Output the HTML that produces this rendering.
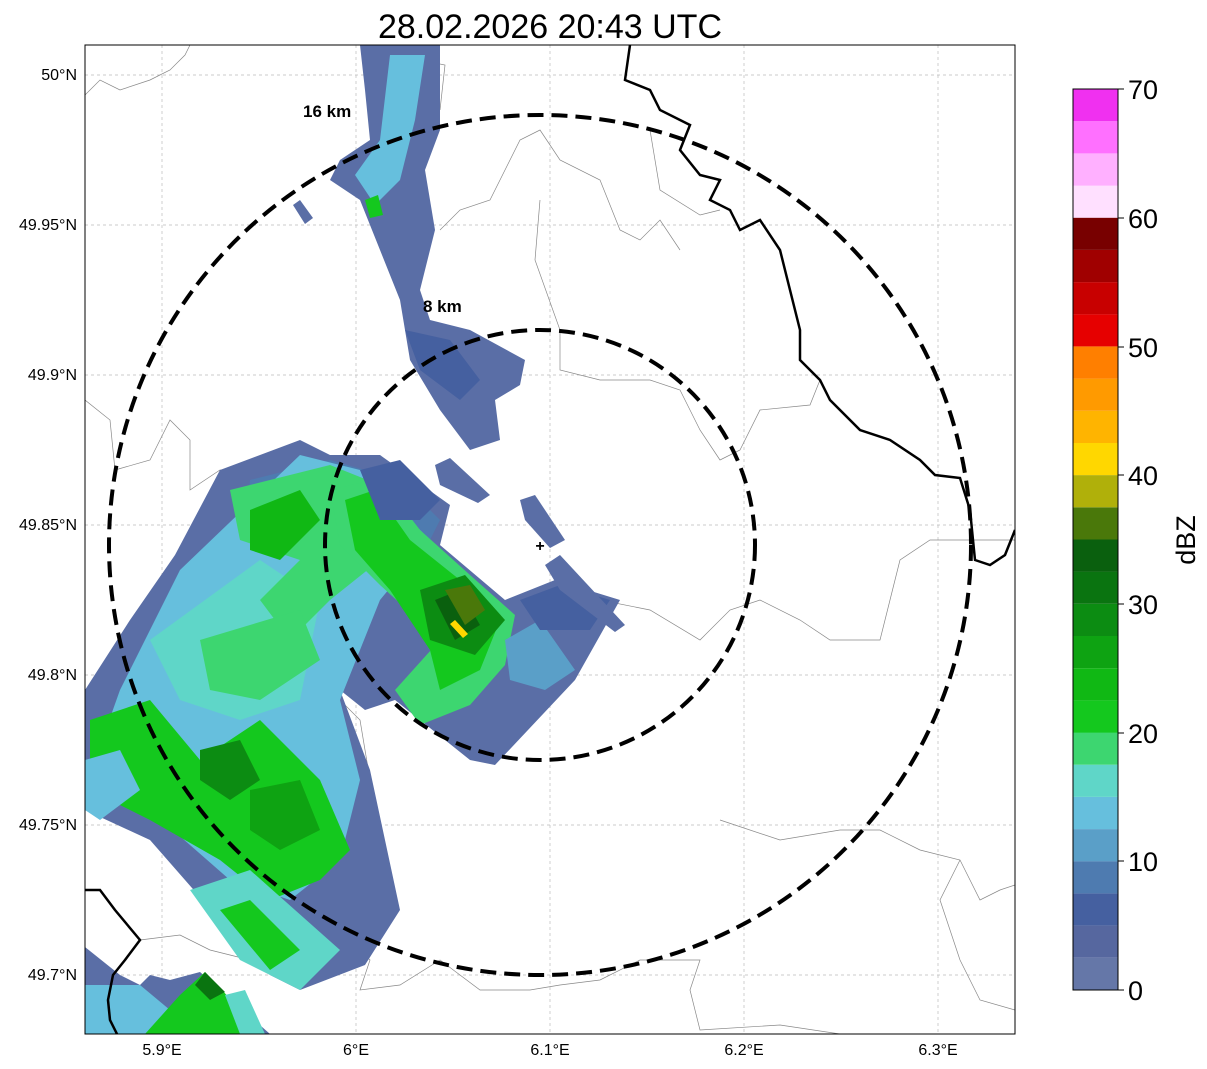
<!DOCTYPE html>
<html><head><meta charset="utf-8"><style>body{margin:0;background:#fff}svg{display:block}text{font-family:"Liberation Sans",sans-serif}</style></head>
<body>
<svg width="1207" height="1069" viewBox="0 0 1207 1069" xmlns="http://www.w3.org/2000/svg">
<defs><clipPath id="c"><rect x="85" y="45" width="930" height="989"/></clipPath></defs>
<text x="550" y="38" font-size="34" text-anchor="middle">28.02.2026 20:43 UTC</text>
<g clip-path="url(#c)">
<g stroke="#bbb" stroke-width="0.7" stroke-dasharray="3,3">
<line x1="162" y1="45" x2="162" y2="1034"/><line x1="356" y1="45" x2="356" y2="1034"/><line x1="550" y1="45" x2="550" y2="1034"/><line x1="744" y1="45" x2="744" y2="1034"/><line x1="938" y1="45" x2="938" y2="1034"/>
<line x1="85" y1="75" x2="1015" y2="75"/><line x1="85" y1="225" x2="1015" y2="225"/><line x1="85" y1="375" x2="1015" y2="375"/><line x1="85" y1="525" x2="1015" y2="525"/><line x1="85" y1="675" x2="1015" y2="675"/><line x1="85" y1="825" x2="1015" y2="825"/><line x1="85" y1="975" x2="1015" y2="975"/>
</g>
<g fill="none" stroke="#888" stroke-width="0.7">
<path d="M85,95 L100,80 120,90 150,80 170,70 185,55 190,45"/>
<path d="M85,400 L110,420 115,470 150,460 170,420 190,440 190,490 220,470 270,480 300,500 300,520 340,530"/>
<path d="M400,45 L420,60 445,65 440,110"/>
<path d="M440,230 L460,210 490,200 520,140 540,130 560,160 600,180 620,230 640,240 660,220 680,250"/>
<path d="M540,200 L535,260 560,330 560,370 600,380 650,380 680,390 700,430 720,460 740,450 760,410 810,405 820,380"/>
<path d="M650,130 L660,190 700,215 720,210"/>
<path d="M460,590 L500,600 560,610 600,600 650,610 700,640 730,610 760,600 800,620 830,640 880,640 900,560 930,540 1015,540"/>
<path d="M340,700 L360,720 370,780 360,840 370,900 350,940 370,960 360,990 400,985 440,960 480,990 530,990 560,985 600,980 640,960 700,960 690,990 700,1030 780,1025 840,1034"/>
<path d="M140,940 L180,935 210,950 250,960 290,960"/>
<path d="M720,820 L780,840 840,830 880,830 920,850 960,860 980,900 1000,890 1015,885"/>
<path d="M960,860 L940,900 960,960 980,1000 1015,1010"/>
</g>
<polygon fill="#5a6ea6" points="220,470 300,440 330,455 380,455 450,505 440,545 505,600 555,580 620,600 575,680 495,765 470,760 395,700 365,710 340,690 370,770 400,910 365,965 300,990 270,975 220,920 150,840 85,810 85,690 130,620 175,555"/>
<polygon fill="#4e7bb0" points="250,480 330,460 400,480 440,520 420,560 350,600 300,620 240,580"/>
<polygon fill="#66bfdd" points="180,570 300,455 360,470 430,540 380,600 340,700 360,780 340,860 290,900 230,880 150,810 95,760 120,690"/>
<polygon fill="#5fd6c8" points="150,640 260,560 320,600 300,700 240,720 180,700"/>
<polygon fill="#3dd670" points="230,490 330,465 380,485 400,520 380,560 330,600 290,640 260,600 300,560 240,540"/>
<polygon fill="#3dd670" points="200,640 300,610 320,660 260,700 210,690"/>
<polygon fill="#14c81e" points="90,720 150,700 200,760 260,720 320,780 350,850 320,880 270,900 220,860 150,820 90,790"/>
<polygon fill="#10b814" points="250,510 300,490 320,520 280,560 250,550"/>
<polygon fill="#0c8c12" points="200,750 240,740 260,780 230,800 200,780"/>
<polygon fill="#0ea312" points="250,790 300,780 320,830 280,850 250,830"/>
<polygon fill="#66bfdd" points="85,760 120,750 140,790 100,820 85,810"/>
<polygon fill="#3dd670" points="330,490 380,478 420,530 470,575 515,615 505,665 470,705 420,725 395,690 440,640 380,585 340,545"/>
<polygon fill="#14c81e" points="345,500 375,490 410,540 460,580 500,620 480,670 440,690 430,650 390,590 355,550"/>
<polygon fill="#0c8c12" points="420,590 465,575 505,620 475,655 430,640"/>
<polygon fill="#0a600e" points="435,600 460,590 480,625 455,640"/>
<polygon fill="#4a780a" points="445,590 470,585 485,610 465,625"/>
<polygon fill="#ffd700" points="450,624 455,620 468,634 463,638"/>
<polygon fill="#4560a0" points="360,470 400,460 440,500 420,520 380,520"/>
<polygon fill="#5a9fc8" points="505,640 540,620 575,670 545,690 510,680"/>
<polygon fill="#4560a0" points="520,600 560,585 610,600 590,630 540,630"/>
<polygon fill="#5fd6c8" points="190,890 250,870 340,950 300,990 240,960"/>
<polygon fill="#14c81e" points="220,910 250,900 300,950 270,970"/>
<polygon fill="#5a6ea6" points="85,947 120,975 140,985 150,975 170,980 200,972 270,1034 85,1034"/>
<polygon fill="#66bfdd" points="85,985 140,985 170,1010 150,1034 85,1034"/>
<polygon fill="#14c81e" points="145,1034 180,995 205,972 250,1020 240,1034"/>
<polygon fill="#0a7410" points="195,985 205,972 225,992 210,1000"/>
<polygon fill="#5fd6c8" points="225,995 245,990 265,1034 240,1034"/>
<polygon fill="#5a6ea6" points="360,45 440,45 440,130 425,170 435,230 420,290 430,320 470,330 525,360 520,385 495,400 500,440 470,450 440,410 410,360 400,300 380,250 360,200 330,180 340,160 370,140 365,90"/>
<polygon fill="#66bfdd" points="390,55 425,55 415,120 400,180 375,205 355,175 380,140"/>
<polygon fill="#4560a0" points="405,330 450,340 480,380 460,400 420,370"/>
<polygon fill="#14c81e" points="365,200 378,195 383,215 370,218"/>
<polygon fill="#5a6ea6" points="293,205 300,200 313,218 305,224"/>
<polygon fill="#5a6ea6" points="435,465 450,458 490,495 478,503 440,485"/>
<polygon fill="#5a6ea6" points="520,500 535,495 565,540 550,548 525,520"/>
<polygon fill="#5a6ea6" points="545,565 560,555 625,625 615,632 560,590"/>
<polyline fill="none" stroke="#000" stroke-width="2.5" points="630,45 625,80 650,90 660,110 690,125 680,150 700,175 720,180 710,200 730,210 740,230 760,220 780,250 790,290 800,330 800,360 820,380 830,400 860,430 890,440 920,460 935,475 960,478 970,510 975,560 990,565 1005,555 1015,530"/>
<polyline fill="none" stroke="#000" stroke-width="2.5" points="85,890 100,890 115,910 140,940 125,960 113,975 108,1000 110,1020 117,1034"/>
<ellipse cx="540" cy="545" rx="431" ry="430" fill="none" stroke="#000" stroke-width="4" stroke-dasharray="16,8"/>
<ellipse cx="540" cy="545" rx="215" ry="215" fill="none" stroke="#000" stroke-width="4" stroke-dasharray="16,8"/>
<text x="540" y="551" font-size="16" font-weight="bold" text-anchor="middle">+</text>
<text x="303" y="117" font-size="17" font-weight="bold">16 km</text>
<text x="423" y="312" font-size="17" font-weight="bold">8 km</text>
</g>
<rect x="85" y="45" width="930" height="989" fill="none" stroke="#000" stroke-width="1"/>
<g font-size="16" text-anchor="middle">
<text x="162" y="1055">5.9°E</text><text x="356" y="1055">6°E</text><text x="550" y="1055">6.1°E</text><text x="744" y="1055">6.2°E</text><text x="938" y="1055">6.3°E</text>
</g>
<g font-size="16" text-anchor="end">
<text x="77" y="80">50°N</text><text x="77" y="230">49.95°N</text><text x="77" y="380">49.9°N</text><text x="77" y="530">49.85°N</text><text x="77" y="680">49.8°N</text><text x="77" y="830">49.75°N</text><text x="77" y="980">49.7°N</text>
</g>
<g>
<rect x="1073" y="957.8" width="45" height="32.2" fill="#6577a8"/>
<rect x="1073" y="925.6" width="45" height="32.2" fill="#56679f"/>
<rect x="1073" y="893.4" width="45" height="32.2" fill="#4560a0"/>
<rect x="1073" y="861.2" width="45" height="32.2" fill="#4e7bb0"/>
<rect x="1073" y="829.1" width="45" height="32.2" fill="#5a9fc8"/>
<rect x="1073" y="796.9" width="45" height="32.2" fill="#66bfdd"/>
<rect x="1073" y="764.7" width="45" height="32.2" fill="#5fd6c8"/>
<rect x="1073" y="732.5" width="45" height="32.2" fill="#3dd670"/>
<rect x="1073" y="700.4" width="45" height="32.2" fill="#14c81e"/>
<rect x="1073" y="668.2" width="45" height="32.2" fill="#10b814"/>
<rect x="1073" y="636" width="45" height="32.2" fill="#0ea312"/>
<rect x="1073" y="603.8" width="45" height="32.2" fill="#0c8c12"/>
<rect x="1073" y="571.6" width="45" height="32.2" fill="#0a7410"/>
<rect x="1073" y="539.5" width="45" height="32.2" fill="#0a600e"/>
<rect x="1073" y="507.3" width="45" height="32.2" fill="#4a780a"/>
<rect x="1073" y="475.1" width="45" height="32.2" fill="#b0b00a"/>
<rect x="1073" y="442.9" width="45" height="32.2" fill="#ffd700"/>
<rect x="1073" y="410.8" width="45" height="32.2" fill="#ffb400"/>
<rect x="1073" y="378.6" width="45" height="32.2" fill="#ff9a00"/>
<rect x="1073" y="346.4" width="45" height="32.2" fill="#ff7f00"/>
<rect x="1073" y="314.2" width="45" height="32.2" fill="#e60000"/>
<rect x="1073" y="282.1" width="45" height="32.2" fill="#c80000"/>
<rect x="1073" y="249.9" width="45" height="32.2" fill="#a00000"/>
<rect x="1073" y="217.7" width="45" height="32.2" fill="#780000"/>
<rect x="1073" y="185.5" width="45" height="32.2" fill="#ffe0ff"/>
<rect x="1073" y="153.4" width="45" height="32.2" fill="#ffb0ff"/>
<rect x="1073" y="121.2" width="45" height="32.2" fill="#ff70ff"/>
<rect x="1073" y="89" width="45" height="32.2" fill="#f030f0"/>
<rect x="1073" y="89" width="45" height="901" fill="none" stroke="#000" stroke-width="1"/>
</g>
<g font-size="27">
<text x="1128" y="1000">0</text><text x="1128" y="871">10</text><text x="1128" y="743">20</text><text x="1128" y="614">30</text><text x="1128" y="485">40</text><text x="1128" y="357">50</text><text x="1128" y="228">60</text><text x="1128" y="99">70</text>
</g>
<g stroke="#000"><line x1="1118" y1="990" x2="1124" y2="990"/><line x1="1118" y1="861" x2="1124" y2="861"/><line x1="1118" y1="733" x2="1124" y2="733"/><line x1="1118" y1="604" x2="1124" y2="604"/><line x1="1118" y1="475" x2="1124" y2="475"/><line x1="1118" y1="347" x2="1124" y2="347"/><line x1="1118" y1="218" x2="1124" y2="218"/><line x1="1118" y1="89" x2="1124" y2="89"/></g>
<text x="1195" y="540" font-size="27" text-anchor="middle" transform="rotate(-90 1195 540)">dBZ</text>
</svg>
</body></html>
